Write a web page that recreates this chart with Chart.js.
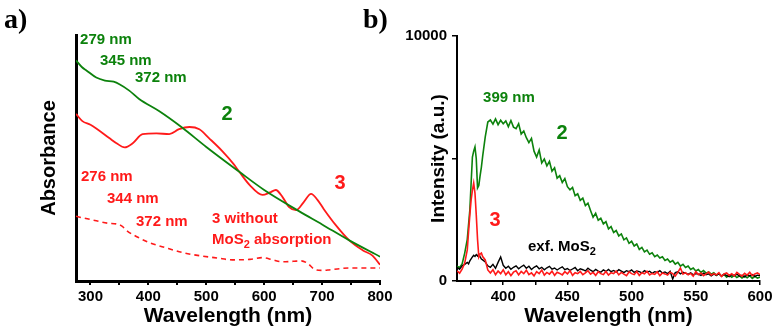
<!DOCTYPE html>
<html>
<head>
<meta charset="utf-8">
<script src="https://cdn.jsdelivr.net/npm/chart.js@4"></script>
<style>
    body { margin: 0; background: #fff; }
    #wrap { position: relative; width: 779px; height: 333px; overflow: hidden; }
    .panel { position: absolute; top: 0; height: 333px; }
    .tag { position: absolute; top: 3px; line-height: 28px; font: bold 28px 'Liberation Serif', 'Times New Roman', serif; color: #000; }
</style>
</head>
<body>
<div id="wrap">
    <div class="panel" style="left:0; width:400px;"><canvas id="absChart"></canvas></div>
    <div class="panel" style="left:355px; width:424px;"><canvas id="plChart"></canvas></div>
    <div class="tag" style="left:4px;">a)</div>
    <div class="tag" style="left:363px;">b)</div>
</div>
<script>
// ---- a) absorbance (arbitrary units, no y ticks) ----
const absGreenWl = [275, 285, 293, 310, 325, 340, 350, 367, 384, 419, 457, 500, 557, 600, 660, 700, 747, 800];
const absGreen   = [0.897, 0.87, 0.856, 0.827, 0.815, 0.81, 0.80, 0.774, 0.74, 0.69, 0.626, 0.545, 0.444, 0.37, 0.284, 0.23, 0.165, 0.099];

const absRedWl = [275, 286, 300, 310, 333, 345, 359, 373, 390, 414, 436, 453, 471, 488, 505, 528, 548, 557, 575, 597, 610, 620, 632, 643, 655, 668, 681, 692, 703, 724, 747, 770, 787, 800];
const absRed   = [0.679, 0.65, 0.635, 0.62, 0.58, 0.56, 0.543, 0.56, 0.597, 0.60, 0.597, 0.617, 0.626, 0.617, 0.58, 0.527, 0.473, 0.444, 0.39, 0.35, 0.36, 0.37, 0.34, 0.30, 0.288, 0.32, 0.354, 0.33, 0.292, 0.226, 0.165, 0.125, 0.103, 0.066];

const absNoMoS2Wl = [275, 290, 310, 330, 345, 355, 362, 380, 402, 430, 460, 488, 520, 545, 575, 597, 615, 631, 650, 664, 676, 686, 700, 712, 730, 747, 770, 800];
const absNoMoS2   = [0.263, 0.255, 0.245, 0.235, 0.232, 0.222, 0.206, 0.18, 0.156, 0.135, 0.115, 0.103, 0.093, 0.086, 0.088, 0.095, 0.086, 0.078, 0.08, 0.082, 0.07, 0.049, 0.043, 0.045, 0.05, 0.053, 0.053, 0.053];

const absTicks = [300, 350, 400, 450, 500, 550, 600, 650, 700, 750, 800];

// ---- b) photoluminescence ----
const plWl = [364, 366, 368, 370, 372, 373, 374, 375, 376, 377, 378, 379, 380, 381, 382, 383, 384,
    386, 388, 390, 392, 394, 396, 398, 400, 402, 404,
    406, 408, 410, 412, 414, 416, 418, 420, 422, 424,
    426, 428, 430, 432, 434, 436, 438, 440, 442, 444,
    446, 448, 450, 452, 454, 456, 458, 460, 462, 464,
    466, 468, 470, 472, 474, 476, 478, 480, 482, 484,
    486, 488, 490, 492, 494, 496, 498, 500, 502, 504,
    506, 508, 510, 512, 514, 516, 518, 520, 522, 524,
    526, 528, 530, 532, 534, 536, 538, 540, 542, 544,
    546, 548, 550, 552, 554, 556, 558, 560, 562, 564,
    566, 568, 570, 572, 574, 576, 578, 580, 582, 584,
    586, 588, 590, 592, 594, 596, 598, 600];

const plSample2 = [600, 550, 700, 1140, 1700, 2300, 2900, 4000, 5060, 5300, 5470, 5000, 3800, 3900, 4300, 4650, 5100,
    5880, 6490, 6570, 6400, 6620, 6380, 6560, 6420, 6530, 6300,
    6550, 6280, 6220, 6420, 6000, 6120, 5850, 5650, 5820, 5300,
    5060, 5350, 4820, 4980, 4700, 4880, 4480, 4620, 4200, 4300,
    4020, 4180, 3850, 3720, 3820, 3480, 3560, 3290, 3380, 3080,
    3180, 2880, 2600, 2760, 2480, 2560, 2330, 2420, 2130, 2220,
    1980, 2060, 1840, 1920, 1680, 1760, 1540, 1620, 1430, 1510,
    1290, 1370, 1190, 1260, 1090, 1150, 990, 1060, 940, 990,
    840, 900, 770, 830, 690, 760, 610, 680, 550, 610,
    470, 530, 410, 470, 350, 430, 320, 370, 280, 340,
    230, 300, 200, 270, 160, 240, 150, 230, 140, 210,
    120, 200, 130, 220, 110, 190, 120, 160];

const plSample3 = [420, 320, 480, 730, 1270, 2000, 2700, 3310, 3700, 4000, 3590, 2700, 1700, 980, 1100, 1140, 1000,
    860, 450, 330, 460, 260, 410, 300, 460, 250, 380,
    220, 360, 420, 250, 390, 300, 440, 260, 330, 210,
    380, 300, 450, 240, 350, 280, 400, 230, 360, 310,
    250, 380, 290, 420, 230, 340, 300, 390, 260, 330,
    420, 280, 350, 230, 380, 300, 260, 390, 240, 340,
    300, 410, 250, 350, 280, 220, 370, 300, 260, 390,
    230, 340, 290, 400, 250, 310, 270, 380, 220, 330,
    290, 240, 360, 300, 200, 350, 530, 280, 340, 250,
    310, 200, 380, 260, 330, 220, 290, 360, 240, 300,
    250, 340, 180, 290, 330, 230, 300, 210, 350, 270,
    200, 310, 240, 360, 220, 290, 330, 260];

const plExfMoS2 = [560, 480, 620, 680, 760, 700, 820, 900, 980, 1050, 1000, 1080, 1020, 1100, 980, 900, 860,
    780, 620, 560, 680, 520, 760, 980, 640, 520, 600,
    480, 560, 620, 500, 580, 650, 520, 600, 470, 560,
    620, 500, 560, 460, 540, 600, 480, 530, 450, 520,
    580, 460, 510, 430, 490, 550, 420, 500, 460, 410,
    520, 440, 380, 470, 400, 360, 450, 390, 470, 380,
    430, 360, 460, 400, 340, 420, 380, 450, 350, 410,
    380, 330, 420, 360, 400, 310, 380, 350, 420, 330,
    370, 300, 400, 80, 340, 380, 290, 360, 320, 270,
    330, 250, 300, 280, 230, 320, 260, 290, 210, 280,
    240, 300, 200, 270, 230, 180, 260, 220, 280, 200,
    230, 170, 250, 210, 260, 190, 240, 220];

const plTicksX = [375, 400, 425, 450, 475, 500, 525, 550, 575, 600];
const plTicksY = [0, 5000, 10000];

const GREEN = '#0c820c';
const RED = '#ff1a1a';
const FONT = "'Liberation Sans', Arial, sans-serif";

// text annotations, placed in data units
const absLabels = [
    { t: '279 nm', x: 282, y: 0.98, c: GREEN, s: 15, a: 'left' },
    { t: '345 nm', x: 316.4, y: 0.894, c: GREEN, s: 15, a: 'left' },
    { t: '372 nm', x: 376.9, y: 0.825, c: GREEN, s: 15, a: 'left' },
    { t: '2', x: 535.8, y: 0.675, c: GREEN, s: 20, a: 'center' },
    { t: '3', x: 730.9, y: 0.398, c: RED, s: 20, a: 'center' },
    { t: '276 nm', x: 283.6, y: 0.423, c: RED, s: 15, a: 'left' },
    { t: '344 nm', x: 328.5, y: 0.333, c: RED, s: 15, a: 'left' },
    { t: '372 nm', x: 378.6, y: 0.24, c: RED, s: 15, a: 'left' },
    { t: '3 without', x: 509.9, y: 0.252, c: RED, s: 15, a: 'left' },
    { t: 'MoS_2 absorption', x: 509.9, y: 0.167, c: RED, s: 15, a: 'left' }
];
const plLabels = [
    { t: '399 nm', x: 384.3, y: 7470, c: GREEN, s: 15, a: 'left' },
    { t: '2', x: 445.8, y: 6040, c: GREEN, s: 20, a: 'center' },
    { t: '3', x: 393.6, y: 2490, c: RED, s: 20, a: 'center' },
    { t: 'exf. MoS_2', x: 419.3, y: 1390, c: '#000', s: 15, a: 'left' }
];

function drawRich(ctx, text, x, y, size, align) {
    const parts = text.split(/_(\d)/);
    const subSize = Math.round(size * 0.7);
    let total = 0;
    parts.forEach((p, i) => {
        ctx.font = `bold ${i % 2 ? subSize : size}px ${FONT}`;
        total += ctx.measureText(p).width;
    });
    let cx = align === 'center' ? x - total / 2 : x;
    ctx.textAlign = 'left';
    ctx.textBaseline = 'middle';
    parts.forEach((p, i) => {
        const sub = i % 2 === 1;
        ctx.font = `bold ${sub ? subSize : size}px ${FONT}`;
        ctx.fillText(p, cx, sub ? y + size * 0.35 : y);
        cx += ctx.measureText(p).width;
    });
}

function labelPlugin(list) {
    return {
        id: 'textLabels',
        afterDatasetsDraw(chart) {
            const { ctx, scales } = chart;
            ctx.save();
            list.forEach(l => {
                ctx.fillStyle = l.c;
                drawRich(ctx, l.t, scales.x.getPixelForValue(l.x), scales.y.getPixelForValue(l.y), l.s, l.a);
            });
            ctx.restore();
        }
    };
}

const pairs = (xs, ys) => xs.map((x, i) => ({ x: x, y: ys[i] }));
const tickFont = { family: FONT, size: 15, weight: 'bold' };

// a) absorbance
new Chart(document.getElementById('absChart'), {
    type: 'line',
    data: {
        datasets: [
            { data: pairs(absGreenWl, absGreen), borderColor: GREEN, borderWidth: 1.8, cubicInterpolationMode: 'monotone' },
            { data: pairs(absRedWl, absRed), borderColor: RED, borderWidth: 1.8, cubicInterpolationMode: 'monotone' },
            { data: pairs(absNoMoS2Wl, absNoMoS2), borderColor: RED, borderWidth: 1.6, borderDash: [5, 4], cubicInterpolationMode: 'monotone' }
        ]
    },
    options: {
        responsive: true, maintainAspectRatio: false, animation: false,
        layout: { padding: { left: 0, right: 20, top: 35, bottom: 0 } },
        elements: { point: { radius: 0 } },
        plugins: { legend: { display: false }, tooltip: { enabled: false } },
        scales: {
            x: {
                type: 'linear', min: 275, max: 800,
                afterFit: s => { s.height = 52; },
                afterBuildTicks: s => { s.ticks = absTicks.map(v => ({ value: v })); },
                ticks: { callback: v => v % 100 === 0 ? String(v) : '', font: tickFont, color: '#000', padding: 3, maxRotation: 0, autoSkip: false },
                grid: { drawOnChartArea: false, tickLength: 4, color: '#000', lineWidth: 2 },
                border: { color: '#000', width: 3 },
                title: { display: true, text: 'Wavelength (nm)', color: '#000', font: { family: FONT, size: 21, weight: 'bold' }, padding: { top: 0, bottom: 4 } }
            },
            y: {
                min: 0, max: 1,
                afterFit: s => { s.width = 76; },
                ticks: { display: false },
                grid: { display: false },
                border: { color: '#000', width: 3 },
                title: { display: true, text: 'Absorbance', color: '#000', font: { family: FONT, size: 20, weight: 'bold' }, padding: { top: 37, bottom: 0 } }
            }
        }
    },
    plugins: [labelPlugin(absLabels)]
});

// b) photoluminescence
new Chart(document.getElementById('plChart'), {
    type: 'line',
    data: {
        datasets: [
            { data: pairs(plWl, plSample3), borderColor: RED, borderWidth: 1.6 },
            { data: pairs(plWl, plExfMoS2), borderColor: '#000', borderWidth: 1.4 },
            { data: pairs(plWl, plSample2), borderColor: GREEN, borderWidth: 1.6 }
        ]
    },
    options: {
        responsive: true, maintainAspectRatio: false, animation: false,
        layout: { padding: { left: 0, right: 19, top: 36, bottom: 0 } },
        elements: { point: { radius: 0 }, line: { tension: 0 } },
        plugins: { legend: { display: false }, tooltip: { enabled: false } },
        scales: {
            x: {
                type: 'linear', min: 364, max: 600,
                afterFit: s => { s.height = 52; },
                afterBuildTicks: s => { s.ticks = plTicksX.map(v => ({ value: v })); },
                ticks: { callback: v => v % 50 === 0 ? String(v) : '', font: tickFont, color: '#000', padding: 3, maxRotation: 0, autoSkip: false },
                grid: { drawOnChartArea: false, tickLength: 4, color: '#000', lineWidth: 1.5 },
                border: { color: '#000', width: 2 },
                title: { display: true, text: 'Wavelength (nm)', color: '#000', font: { family: FONT, size: 21, weight: 'bold' }, padding: { top: 0, bottom: 4 } }
            },
            y: {
                min: 0, max: 10000,
                afterFit: s => { s.width = 102; },
                afterBuildTicks: s => { s.ticks = plTicksY.map(v => ({ value: v })); },
                ticks: { callback: v => (v === 0 || v === 10000) ? String(v) : '', font: tickFont, color: '#000', padding: 5 },
                grid: { drawOnChartArea: false, tickLength: 5, color: '#000', lineWidth: 1.5 },
                border: { color: '#000', width: 2 },
                title: { display: true, text: 'Intensity (a.u.)', color: '#000', font: { family: FONT, size: 19, weight: 'bold' }, padding: { top: 72, bottom: 0 } }
            }
        }
    },
    plugins: [labelPlugin(plLabels)]
});
</script>
</body>
</html>
